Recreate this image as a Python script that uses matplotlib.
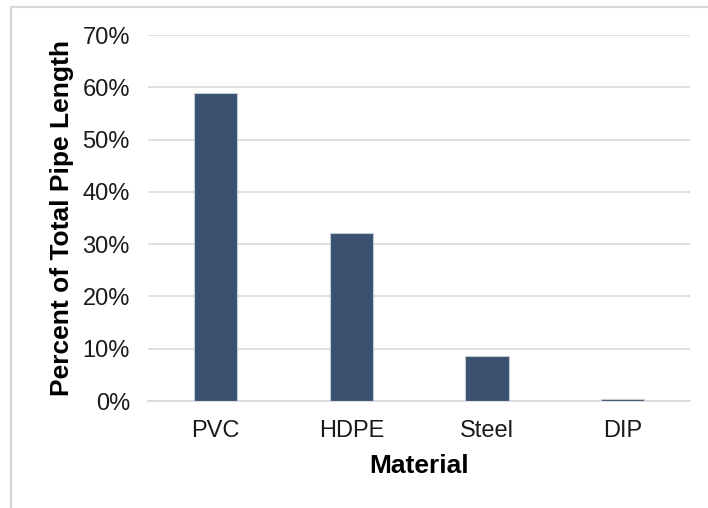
import matplotlib
matplotlib.use('Agg')
import matplotlib.pyplot as plt
from matplotlib.lines import Line2D
from matplotlib.ticker import PercentFormatter

# Data
materials = ['PVC', 'HDPE', 'Steel', 'DIP']
percent_length = [58.9, 32.1, 8.6, 0.4]
y_ticks = [0, 10, 20, 30, 40, 50, 60, 70]

plt.rcParams['font.family'] = ['Liberation Sans', 'DejaVu Sans']

fig = plt.figure(figsize=(7.08, 5.08), dpi=100)
ax = fig.add_axes([0.209, 0.2106, 0.766, 0.7204])

# Frame around the chart area (only the left/top edges show)
bx, by = 10.5 / 708, 1 - 6.5 / 508
frame = Line2D([bx, bx, 1.0], [0.0, by, by], transform=fig.transFigure,
               color='#d6d6d6', linewidth=1.6, zorder=10)
fig.add_artist(frame)

ax.bar(range(len(materials)), percent_length, width=0.32, color='#3b5170',
       edgecolor='#c5ccd6', linewidth=0.8, zorder=3)

ax.set_xlim(-0.5, len(materials) - 0.5)
ax.set_ylim(0, 70)
ax.set_yticks(y_ticks)
ax.yaxis.set_major_formatter(PercentFormatter(decimals=0))
ax.set_xticks(range(len(materials)))
ax.set_xticklabels(materials)
ax.grid(axis='y', color='#d9d9d9', linewidth=1.2, zorder=0)

for side in ['top', 'right', 'left']:
    ax.spines[side].set_visible(False)
ax.spines['bottom'].set_color('#d9d9d9')
ax.spines['bottom'].set_linewidth(1.2)
ax.tick_params(length=0, labelsize=17, colors='#1a1a1a')
ax.tick_params(axis='y', pad=13)
ax.tick_params(axis='x', pad=14)

ax.set_xlabel('Material', fontsize=19, fontweight='bold', labelpad=8)
ax.set_ylabel('Percent of Total Pipe Length', fontsize=19, fontweight='bold', labelpad=6)

fig.savefig('out.png', dpi=100)
